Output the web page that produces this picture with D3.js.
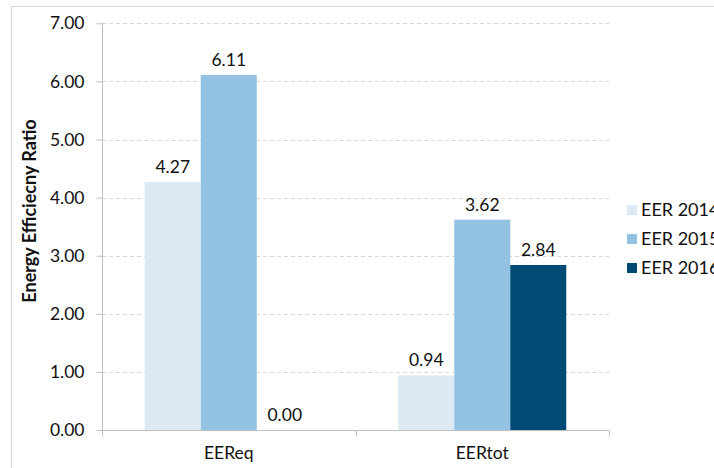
<!DOCTYPE html>
<html>
<head>
<meta charset="utf-8">
<script src="https://cdn.jsdelivr.net/npm/d3@7"></script>
<style>
  html, body { margin: 0; padding: 0; background: #fff; }
  svg { display: block; font-family: Lato, "Open Sans", sans-serif; }
</style>
</head>
<body>
<svg id="chart" width="714" height="468"></svg>
<script>
// Categories, series and their values
const categories = ["EEReq", "EERtot"];
const seriesNames = ["EER 2014", "EER 2015", "EER 2016"];
const eer2014 = [4.27, 0.94];
const eer2015 = [6.11, 3.62];
const eer2016 = [0.00, 2.84];
const yTicks = [0, 1, 2, 3, 4, 5, 6, 7];
const seriesColors = ["#ddeaf4", "#93c2e2", "#004b76"];

const seriesValues = [eer2014, eer2015, eer2016];
const rows = categories.map((c, i) => ({
  category: c,
  values: seriesNames.map((s, j) => ({ series: s, value: seriesValues[j][i], idx: j }))
}));

const svg = d3.select("#chart");
const plot = { left: 102, right: 609, top: 23.3, bottom: 430 };
const fontSize = 17.5;

// Outer chart frame
svg.append("rect")
  .attr("x", 11.5).attr("y", 6.5)
  .attr("width", 760).attr("height", 520)
  .attr("fill", "none").attr("stroke", "#d9d9d9").attr("stroke-width", 1);

const x0 = d3.scaleBand().domain(categories).range([plot.left, plot.right]).paddingInner(0).paddingOuter(0);
const barW = 56;
const x1 = d3.scaleBand().domain(seriesNames).range([0, barW * 3]);
const y = d3.scaleLinear().domain([0, 7]).range([plot.bottom, plot.top]);

// Dashed gridlines
svg.append("g").selectAll("line")
  .data(yTicks.filter(t => t > 0))
  .join("line")
  .attr("x1", plot.left).attr("x2", plot.right)
  .attr("y1", d => Math.round(y(d)) + 0.5).attr("y2", d => Math.round(y(d)) + 0.5)
  .attr("stroke", "#d9d9d9").attr("stroke-width", 1)
  .attr("stroke-dasharray", "4,3");

// Bars
const groups = svg.append("g").selectAll("g")
  .data(rows)
  .join("g")
  .attr("transform", d => `translate(${x0(d.category) + x0.bandwidth() / 2 - barW * 1.5},0)`);

groups.selectAll("rect")
  .data(d => d.values)
  .join("rect")
  .attr("x", d => x1(d.series))
  .attr("y", d => y(d.value))
  .attr("width", x1.bandwidth())
  .attr("height", d => y(0) - y(d.value))
  .attr("fill", d => seriesColors[d.idx]);

// Value labels
groups.selectAll("text")
  .data(d => d.values)
  .join("text")
  .attr("x", d => x1(d.series) + x1.bandwidth() / 2)
  .attr("y", d => y(d.value) - 9)
  .attr("text-anchor", "middle")
  .attr("font-size", fontSize)
  .attr("fill", "#111")
  .text(d => d.value.toFixed(2));

// Y axis
const yAxis = d3.axisLeft(y).tickValues(yTicks).tickFormat(d3.format(".2f")).tickSize(6).tickPadding(12);
const gy = svg.append("g").attr("transform", `translate(${plot.left + 0.5},0)`).call(yAxis);
gy.select(".domain").attr("stroke", "#bfbfbf").attr("d", `M0,${plot.top}V${plot.bottom}`);
gy.selectAll(".tick line").attr("stroke", "#bfbfbf");
gy.selectAll(".tick text").attr("font-size", fontSize).attr("fill", "#111").attr("font-family", "Lato, sans-serif");

// X axis
const xAxis = d3.axisBottom(x0).tickSize(0).tickPadding(16);
const gx = svg.append("g").attr("transform", `translate(0,${plot.bottom + 0.5})`).call(xAxis);
gx.select(".domain").attr("stroke", "#bfbfbf").attr("d", `M${plot.left},0H${plot.right}`);
gx.selectAll(".tick text").attr("font-size", fontSize).attr("fill", "#111").attr("font-family", "Lato, sans-serif");
// Category separator ticks
gx.append("g").selectAll("line")
  .data([plot.left, x0(categories[1]), plot.right])
  .join("line")
  .attr("x1", d => Math.round(d) + 0.5).attr("x2", d => Math.round(d) + 0.5)
  .attr("y1", 0).attr("y2", 6)
  .attr("stroke", "#bfbfbf");

// Y axis title
svg.append("text")
  .attr("transform", "translate(36,211) rotate(-90)")
  .attr("text-anchor", "middle")
  .attr("font-size", 18)
  .attr("font-weight", "bold")
  .attr("fill", "#111")
  .text("Energy Efficiecny Ratio");

// Legend (runs past the right edge of the frame)
const legend = svg.append("g").selectAll("g")
  .data(seriesNames)
  .join("g")
  .attr("transform", (d, i) => `translate(627,${205 + i * 29})`);
legend.append("rect")
  .attr("width", 10).attr("height", 10)
  .attr("fill", (d, i) => seriesColors[i]);
legend.append("text")
  .attr("x", 14).attr("y", 11)
  .attr("font-size", 18)
  .attr("fill", "#111")
  .text(d => d);
</script>
</body>
</html>
